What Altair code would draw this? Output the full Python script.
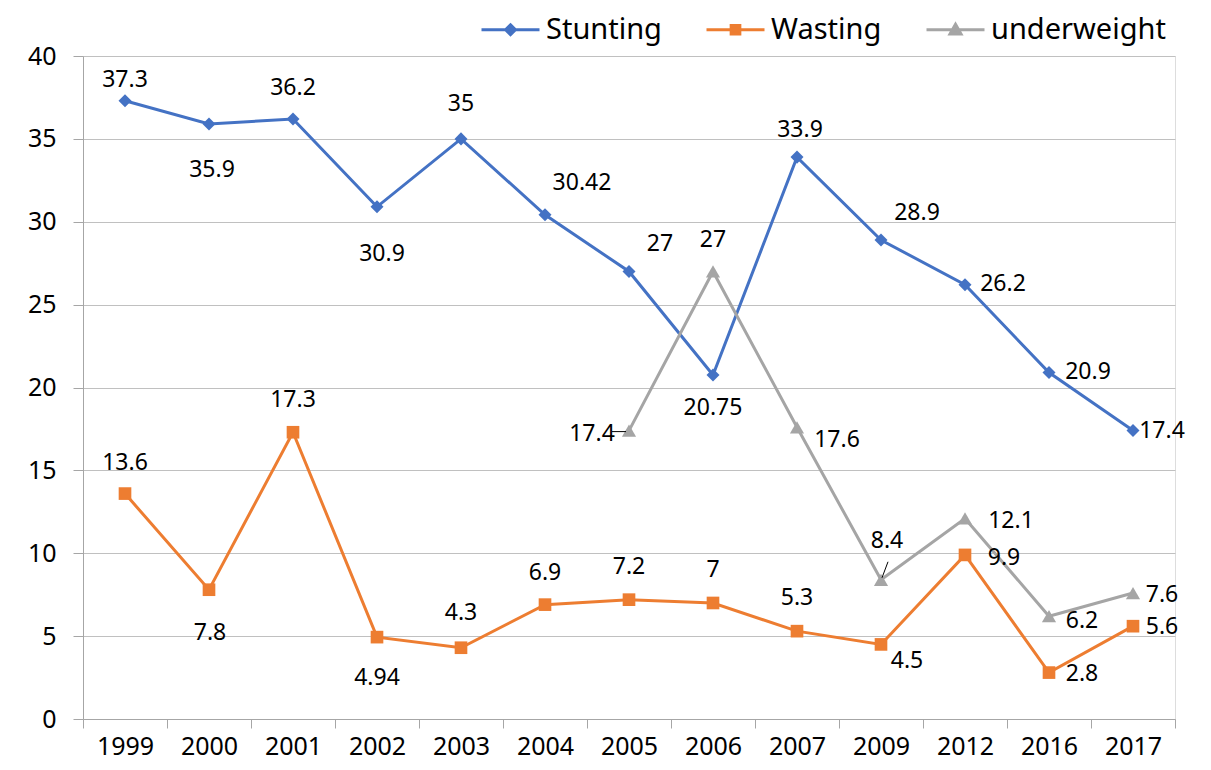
import altair as alt
import pandas as pd

years = ["1999", "2000", "2001", "2002", "2003", "2004", "2005",
         "2006", "2007", "2009", "2012", "2016", "2017"]
stunting = [37.3, 35.9, 36.2, 30.9, 35, 30.42, 27, 20.75, 33.9, 28.9, 26.2, 20.9, 17.4]
wasting = [13.6, 7.8, 17.3, 4.94, 4.3, 6.9, 7.2, 7, 5.3, 4.5, 9.9, 2.8, 5.6]
underweight = [None, None, None, None, None, None, 17.4, 27, 17.6, 8.4, 12.1, 6.2, 7.6]

series_names = ["Stunting", "Wasting", "underweight"]
series_colors = ["#4472C4", "#ED7D31", "#A5A5A5"]
marker_shapes = ["diamond", "square", "triangle-up"]
marker_sizes = [170, 160, 200]
legend_paths = [
    "M-1,0H1M0,-0.17L0.17,0L0,0.17L-0.17,0Z",
    "M-1,0H1M-0.15,-0.15H0.15V0.15H-0.15Z",
    "M-1,0H1M0,-0.19L0.19,0.15H-0.19Z",
]

# data-label offsets (pixels) per point, as placed in the reference
stunting_dx = [0, 3, 0, 5, 0, 37, 31, 0, 3, 36, 38, 39, 29]
stunting_dy = [-21, 46, -31, 47, -35, -32, -27, 33, -27, -27, -1, -1, 0]
wasting_dx = [0, 1, 0, 0, 0, 0, 0, 0, 0, 26, 39, 33, 29]
wasting_dy = [-31, 43, -32, 41, -35, -32, -33, -33, -33, 17, 3, 1, 1]
under_dx = [0, 0, 0, 0, 0, 0, -37, 0, 40, 6, 46, 33, 29]
under_dy = [0, 0, 0, 0, 0, 0, 3, -31, 13, -39, 3, 5, 2]

FONT = "Noto Sans"

rows = []
for name, vals, dxs, dys in [
    ("Stunting", stunting, stunting_dx, stunting_dy),
    ("Wasting", wasting, wasting_dx, wasting_dy),
    ("underweight", underweight, under_dx, under_dy),
]:
    for yr, v, dx, dy in zip(years, vals, dxs, dys):
        if v is None:
            continue
        rows.append({"year": yr, "series": name, "value": v,
                     "label": f"{v:g}", "dx": dx, "dy": dy})
df = pd.DataFrame(rows)

x_enc = alt.X("year:N", sort=years,
              scale=alt.Scale(paddingInner=0, paddingOuter=0),
              axis=alt.Axis(title=None, labelAngle=0, tickBand="extent", grid=False,
                            tickSize=9, tickColor="#a6a6a6", domainColor="#a6a6a6",
                            labelFont=FONT, labelFontSize=25, labelColor="black",
                            labelPadding=6))
y_enc = alt.Y("value:Q",
              scale=alt.Scale(domain=[0, 40], nice=False),
              axis=alt.Axis(title=None, values=[0, 5, 10, 15, 20, 25, 30, 35, 40],
                            grid=True, gridColor="#c0c0c0", gridWidth=1,
                            tickSize=10, tickColor="#a6a6a6", domainColor="#a6a6a6",
                            labelFont=FONT, labelFontSize=25, labelColor="black",
                            labelPadding=17))

base = alt.Chart(df)
layers = []
for name, col, shp, sz in zip(series_names, series_colors, marker_shapes, marker_sizes):
    sub = base.transform_filter(alt.datum.series == name)
    layers.append(sub.mark_line(color=col, strokeWidth=3).encode(x=x_enc, y=y_enc))
    layers.append(sub.mark_point(shape=shp, size=sz, filled=True, color=col, opacity=1)
                  .encode(x=x_enc, y=y_enc))

# data labels: one text layer per distinct offset
label_layers = []
for (dx, dy), _ in df.groupby(["dx", "dy"]):
    label_layers.append(
        base.transform_filter((alt.datum.dx == int(dx)) & (alt.datum.dy == int(dy)))
        .mark_text(font=FONT, fontSize=23, color="black", baseline="middle",
                   align="center", dx=int(dx), dy=int(dy))
        .encode(x=x_enc, y=y_enc, text="label:N")
    )

leader1 = base.transform_filter(
    (alt.datum.series == "underweight") & (alt.datum.year == "2005")
).mark_rule(color="black", strokeWidth=1, xOffset=-17, x2Offset=-3,
            yOffset=1, y2Offset=1).encode(x=x_enc, x2="year:N", y=y_enc, y2="value:Q")

leader2 = base.transform_filter(
    (alt.datum.series == "underweight") & (alt.datum.year == "2009")
).mark_rule(color="black", strokeWidth=1, xOffset=7, x2Offset=1,
            yOffset=-18, y2Offset=-2).encode(x=x_enc, x2="year:N", y=y_enc, y2="value:Q")

leg = alt.Legend(orient="none", legendX=397, legendY=-57, direction="horizontal",
                 title=None, labelFont=FONT, labelFontSize=29, labelColor="black",
                 labelLimit=400, symbolSize=3364, symbolStrokeWidth=3, labelOffset=5,
                 columnPadding=38, padding=0)
legend_layer = alt.Chart(pd.DataFrame({"series": series_names})).transform_filter(
    "false"
).mark_point(filled=True, opacity=1, strokeWidth=3).encode(
    shape=alt.Shape("series:N", scale=alt.Scale(domain=series_names, range=legend_paths), legend=leg),
    stroke=alt.Stroke("series:N", scale=alt.Scale(domain=series_names, range=series_colors), legend=leg),
    fill=alt.Fill("series:N", scale=alt.Scale(domain=series_names, range=series_colors), legend=leg),
)

chart = alt.layer(*layers, *label_layers, leader1, leader2, legend_layer).properties(
    width=1092, height=663,
    autosize=alt.AutoSizeParams(type="none"),
    padding={"left": 75, "top": 48, "right": 28, "bottom": 43},
).configure_view(stroke=None).configure(background="white")

chart.save("out.html", embed_options={"renderer": "svg", "actions": False})
